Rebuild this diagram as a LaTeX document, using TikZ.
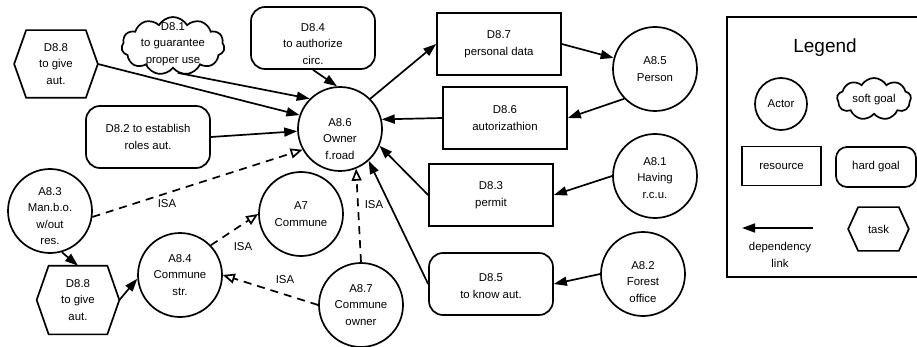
\documentclass[tikz,border=0pt]{standalone}
\usepackage{fontspec}
\setmainfont{Liberation Sans}
\usetikzlibrary{arrows.meta,shapes.symbols}
\newcommand\fnt{\fontsize{11.4}{16.5}\selectfont}
\tikzset{
  base/.style={draw, line width=1.7pt, align=center, font=\fnt, inner sep=0pt},
  actor/.style={base, circle, minimum size=84pt},
  resource/.style={base, rectangle, minimum width=124pt, minimum height=62pt},
  hardgoal/.style={resource, rounded corners=14pt},
  softgoal/.style={base, cloud, cloud puffs=11, cloud puff arc=120, cloud ignores aspect, minimum width=103pt, minimum height=58pt},
  taskbox/.style={base, draw=none, rectangle, minimum width=82pt, minimum height=66pt},
  txt/.style={align=center, font=\fnt, inner sep=0pt},
  dep/.style={line width=1.7pt, -{Triangle[length=13pt,width=9pt]}},
  isa/.style={line width=1.7pt, dash pattern=on 8pt off 6pt, -{Triangle[open,length=12pt,width=10pt]}},
}
\newcommand\hexframe[2]{\draw[line width=1.7pt, line join=miter] (#1.west) -- ([xshift=#2pt]#1.north west) -- ([xshift=-#2pt]#1.north east) -- (#1.east) -- ([xshift=-#2pt]#1.south east) -- ([xshift=#2pt]#1.south west) -- cycle;}
\begin{document}
\begin{tikzpicture}[x=1pt,y=-1pt]
\useasboundingbox (0,0) rectangle (917,347);
% nodes
\node[taskbox] (d88a) at (56,64) {D8.8\\to give\\aut.};
\hexframe{d88a}{12}
\node[softgoal] (d81) at (173,46) {};
\node[txt] (d81t) at (173,44) {D8.1\\to guarantee\\proper use};
\node[hardgoal, label={[txt,yshift=-6pt]center:{D8.4\\to authorize\\circ.}}] (d84) at (313,38) {};
\node[hardgoal] (d82) at (148,137) {D8.2 to establish\\roles aut.};
\node[actor, label={[txt,yshift=-10pt]center:{A8.6\\Owner\\f.road}}] (a86) at (340,129) {};
\node[resource] (d87) at (499,44) {D8.7\\personal data};
\node[actor] (a85) at (655,69) {A8.5\\Person};
\node[resource] (d86) at (505,118) {D8.6\\autorizathion};
\node[actor, label={[txt,yshift=-2pt]center:{A8.1\\Having\\r.c.u.}}] (a81) at (655,176) {};
\node[resource] (d83) at (491,195) {D8.3\\permit};
\node[hardgoal, label={[txt,yshift=-2pt]center:{D8.5\\to know aut.}}] (d85) at (491,284) {};
\node[actor, label={[txt,yshift=-8pt]center:{A8.2\\Forest\\office}}] (a82) at (643,274) {};
\node[actor, label={[txt,yshift=-5pt]center:{A8.3\\Man.b.o.\\w/out\\res.}}] (a83) at (50,211) {};
\node[taskbox, minimum height=67pt, minimum width=81pt] (d88b) at (78,300) {D8.8\\to give\\aut.};
\hexframe{d88b}{12}
\node[actor] (a84) at (180,275) {A8.4\\Commune\\str.};
\node[actor] (a7) at (301,214) {A7\\Commune};
\node[actor] (a87) at (361,305) {A8.7\\Commune\\owner};
% ISA labels
\node[txt] (isa1) at (167,204) {ISA};
\node[txt] (isa2) at (243,247) {ISA};
\node[txt] (isa3) at (285,280) {ISA};
\node[txt] (isa4) at (374,205) {ISA};
% connectors
\draw[dep] (d88a.east) -- (a86.161);
\draw[dep] (d81.-80) -- (a86.135);
\draw[dep] (d84.south) -- (a86.94);
\draw[dep] (d82.east) -- (a86.183);
\draw[isa] (a83.-8) -- (a86.209);
\draw[dep] (a86.45) -- (d87.west);
\draw[dep] (d87.east) -- (a85.165);
\draw[dep] (a85.224) -- (d86.east);
\draw[dep] (d86.west) -- (a86.13);
\draw[dep] (a81.west) -- (d83.east);
\draw[dep] (d83.west) -- (a86.-23);
\draw[dep] (d85.west) -- (a86.-48);
\draw[dep] (a82.west) -- (d85.east);
\draw[isa] (a87.north) -- (a86.-68);
\draw[isa] (a84.44) -- (a7.west);
\draw[isa] (a87.west) -- (a84.east);
\draw[dep] (a83.-74) -- (d88b.north);
\draw[dep] (d88b.east) -- (a84.185);
% legend
\draw[line width=1.7pt] (917,17) -- (727,17) -- (727,277) -- (917,277);
\node[font=\fontsize{19}{22}\selectfont, inner sep=0pt] (lgt) at (825,48) {Legend};
\node[actor, minimum size=52pt] (lga) at (781,104) {Actor};
\node[softgoal, minimum width=74pt, minimum height=42pt, cloud puffs=9] (lgs) at (874,99) {};
\node[txt] (lgst) at (874,100) {soft goal};
\node[resource, minimum width=79pt, minimum height=39pt] (lgr) at (781.5,166) {resource};
\node[hardgoal, minimum width=80pt, minimum height=40pt, rounded corners=11pt] (lgh) at (876,167) {hard goal};
\node[taskbox, minimum width=59pt, minimum height=42pt] (lgk) at (878.5,229) {task};
\hexframe{lgk}{10}
\coordinate (lgA) at (813,228);
\coordinate (lgB) at (742,228);
\draw[dep] (lgA) -- (lgB);
\node[txt] (lgd) at (780,255) {dependency\\link};
\end{tikzpicture}
\end{document}
